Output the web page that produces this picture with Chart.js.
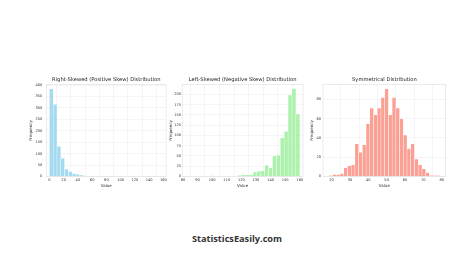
<!DOCTYPE html>
<html>
<head>
<meta charset="utf-8">
<script src="https://cdn.jsdelivr.net/npm/chart.js@4.4.0/dist/chart.umd.min.js"></script>
<style>
  html, body { margin: 0; padding: 0; background: #fff; }
  body { width: 474px; height: 266px; position: relative; overflow: hidden; }
  .box { position: absolute; top: 77px; }
  #brand { position: absolute; left: 0; width: 474px; top: 232px; line-height: 14px; text-align: center;
           font: bold 9.2px "Open Sans", sans-serif; color: #333; }
</style>
</head>
<body>
<div class="box" style="left:28.6px"><canvas id="rightChart" width="144" height="111"></canvas></div>
<div class="box" style="left:169.3px"><canvas id="leftChart" width="140" height="111"></canvas></div>
<div class="box" style="left:310.3px"><canvas id="symChart" width="142" height="111"></canvas></div>
<div id="brand">StatisticsEasily.com</div>
<script>
/* ---------- histogram counts (30 bins each) ---------- */

var rightCounts = [384, 316, 132, 80, 33, 21, 13, 9, 6, 3, 2, 1, 1, 0, 1, 0, 0, 1, 0, 0, 0, 0, 0, 0, 0, 0, 0, 0, 0, 1];
var rightBins = {start: 0, width: 5.33};

var leftCounts = [1, 0, 0, 0, 0, 0, 0, 2, 0, 0, 0, 0, 0, 0, 3, 4, 4, 4, 11, 13, 14, 27, 21, 50, 52, 94, 110, 198, 214, 152];
var leftBins = {start: 80, width: 2.667};

var symCounts = [1, 2, 2, 3, 9, 11, 12, 34, 25, 33, 55, 71, 64, 71, 82, 91, 64, 82, 71, 60, 43, 29, 34, 18, 12, 8, 4, 1, 1, 1];
var symBins = {start: 18.5, width: 2.03};

var gridColor = "#ebebeb";

Chart.defaults.font.family = '"DejaVu Sans", sans-serif';
Chart.defaults.color = "#333";

// light grey box round the plot area, like the seaborn whitegrid spines
var frame = {
  id: "frame",
  afterDraw: function (chart) {
    var a = chart.chartArea, ctx = chart.ctx;
    ctx.save();
    ctx.strokeStyle = "#dedede";
    ctx.lineWidth = 0.6;
    ctx.strokeRect(a.left, a.top, a.right - a.left, a.bottom - a.top);
    ctx.restore();
  }
};

function histogram(id, counts, bins, opts) {
  var points = counts.map(function (c, i) {
    return {x: bins.start + (i + 0.5) * bins.width, y: c};
  });
  return new Chart(id, {
    type: "bar",
    data: {
      datasets: [{
        data: points,
        backgroundColor: opts.color,
        borderColor: "#fff",
        borderWidth: 0.5,
        barPercentage: 1,
        categoryPercentage: 1
      }]
    },
    options: {
      responsive: false,
      animation: false,
      events: [],
      layout: {padding: {top: 0, right: opts.padRight, bottom: 0, left: 0}},
      plugins: {
        legend: {display: false},
        tooltip: {enabled: false},
        title: {
          display: true,
          fullSize: false,
          text: opts.title,
          color: "#222",
          font: {size: 5.2, weight: "normal"},
          padding: {top: 0, bottom: 1.2}
        }
      },
      scales: {
        x: {
          type: "linear",
          min: opts.xMin,
          max: opts.xMax,
          offset: false,
          ticks: {stepSize: opts.xStep, includeBounds: false, font: {size: 3.6}, padding: 1.5, maxRotation: 0, autoSkip: false},
          grid: {color: gridColor, lineWidth: 0.5, drawTicks: false},
          border: {display: false},
          title: {display: true, text: "Value", font: {size: 4}, padding: 0},
          afterFit: function (axis) { axis.height = 11.5; }
        },
        y: {
          min: 0,
          max: opts.yMax,
          ticks: {stepSize: opts.yStep, includeBounds: false, font: {size: 3.6}, padding: opts.yPad},
          grid: {color: gridColor, lineWidth: 0.5, drawTicks: false},
          border: {display: false},
          title: {display: true, text: "Frequency", font: {size: 4}, padding: {top: 0, bottom: 0}},
          afterFit: function (axis) { axis.width = opts.axisWidth; }
        }
      }
    },
    plugins: [frame]
  });
}

histogram("rightChart", rightCounts, rightBins, {
  title: "Right-Skewed (Positive Skew) Distribution",
  color: "rgba(135, 206, 235, 0.75)",
  xMin: -4.2, xMax: 163.8, xStep: 20,
  yMax: 403, yStep: 50,
  axisWidth: 17.4, yPad: 4, padRight: 6.9
});

histogram("leftChart", leftCounts, leftBins, {
  title: "Left-Skewed (Negative Skew) Distribution",
  color: "rgba(144, 238, 144, 0.75)",
  xMin: 79.5, xMax: 162.2, xStep: 10,
  yMax: 224, yStep: 25,
  axisWidth: 13.2, yPad: 1.2, padRight: 6
});

histogram("symChart", symCounts, symBins, {
  title: "Symmetrical Distribution",
  color: "rgba(250, 128, 114, 0.75)",
  xMin: 15.3, xMax: 82.2, xStep: 10,
  yMax: 95.6, yStep: 20,
  axisWidth: 13, yPad: 2, padRight: 6.3
});
</script>
</body>
</html>
